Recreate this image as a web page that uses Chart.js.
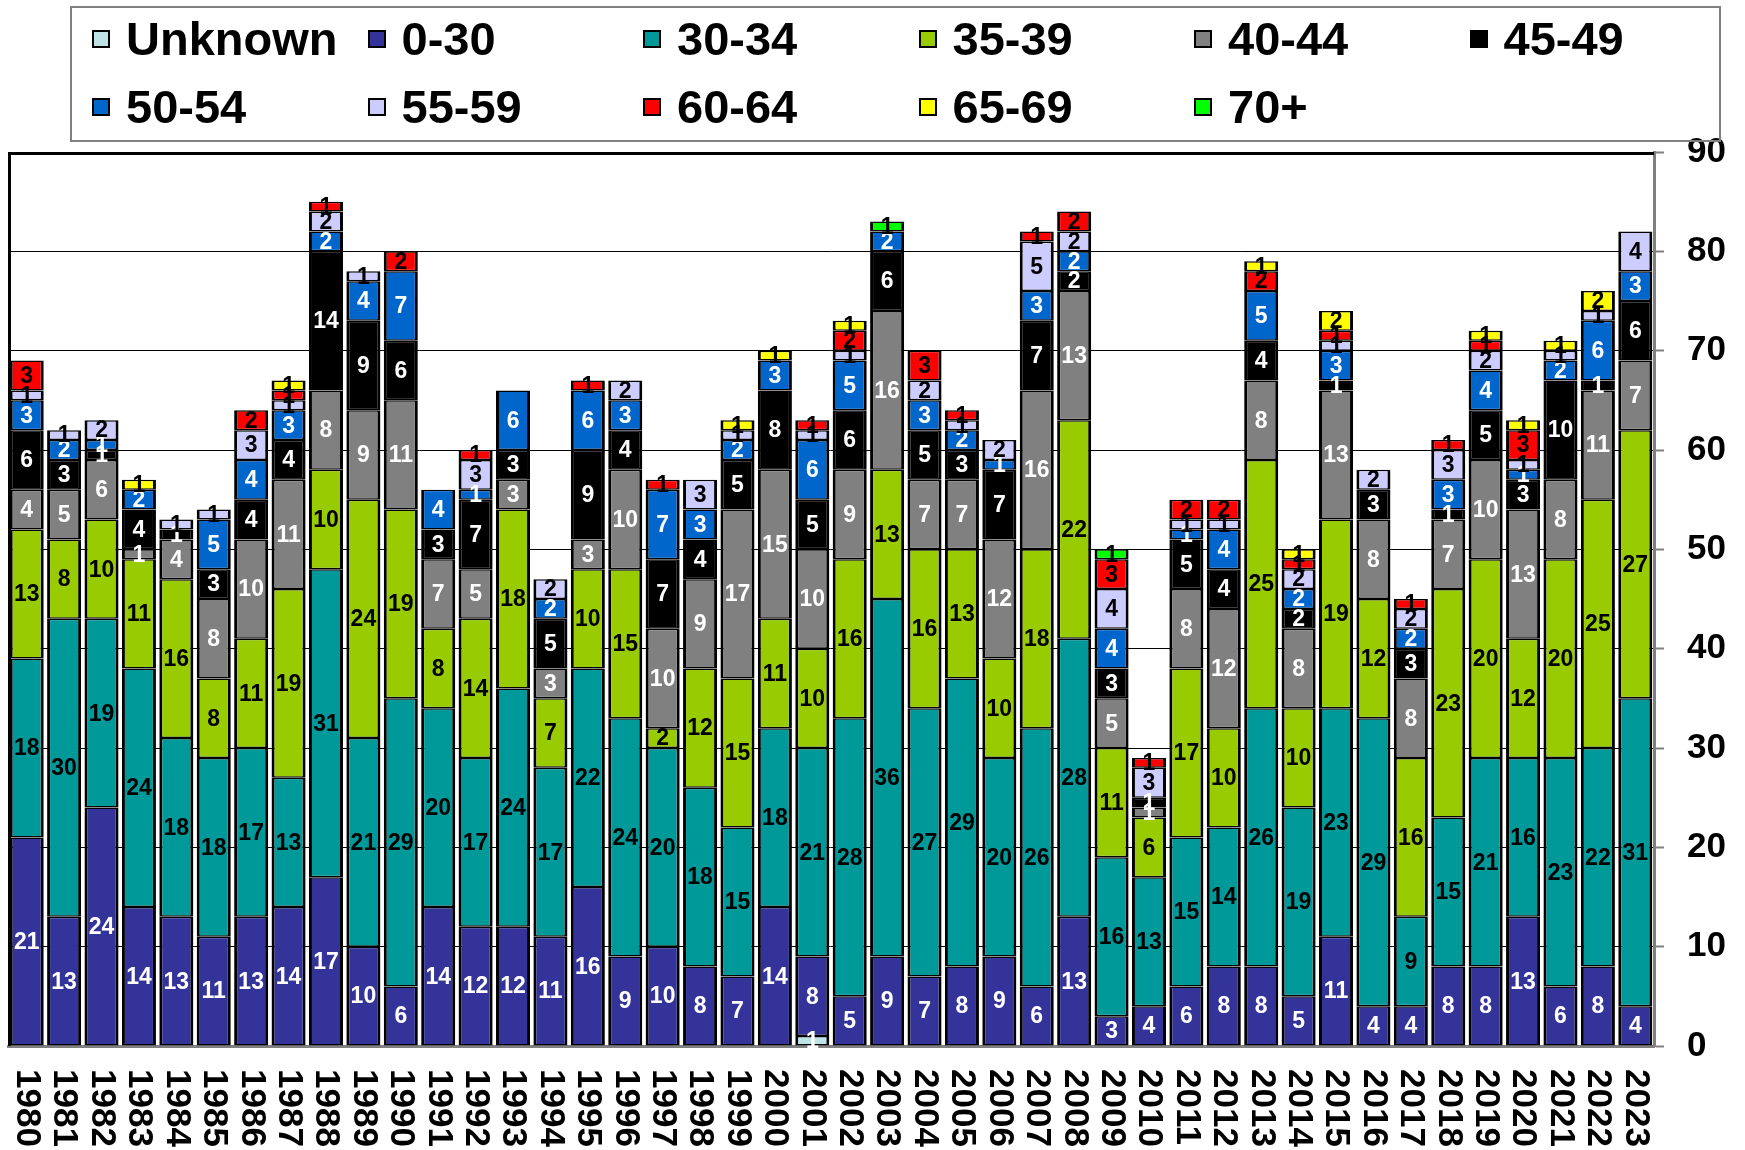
<!DOCTYPE html>
<html>
<head>
<meta charset="utf-8">
<script src="https://cdn.jsdelivr.net/npm/chart.js"></script>
<style>
  html, body { margin: 0; padding: 0; background: #fff; }
  #wrap { position: relative; width: 1745px; height: 1150px; }
  #chart { position: absolute; left: 0; top: 0; }
  #legend { position: absolute; left: 70px; top: 6px; width: 1651px; height: 136px; border: 2px solid #808080; box-sizing: border-box; }
  .lg-item { position: absolute; height: 56px; line-height: 56px; font: bold 47px "Liberation Sans", Arial, sans-serif; color: #000; white-space: nowrap; }
  .lg-box { position: absolute; left: 0; top: 19px; width: 18px; height: 18px; border: 2px solid #000; box-sizing: border-box; }
  .lg-text { position: absolute; left: 34px; top: 0; }
</style>
</head>
<body>
<div id="wrap">
  <canvas id="chart" width="1745" height="1150"></canvas>
  <div id="legend"></div>
</div>
<script>
// years on the x axis
const years = ["1980","1981","1982","1983","1984","1985","1986","1987","1988","1989",
               "1990","1991","1992","1993","1994","1995","1996","1997","1998","1999",
               "2000","2001","2002","2003","2004","2005","2006","2007","2008","2009",
               "2010","2011","2012","2013","2014","2015","2016","2017","2018","2019",
               "2020","2021","2022","2023"];

const seriesNames = ["Unknown","0-30","30-34","35-39","40-44","45-49","50-54","55-59","60-64","65-69","70+"];

const unknown = [0,0,0,0,0,0,0,0,0,0, 0,0,0,0,0,0,0,0,0,0, 0,1,0,0,0,0,0,0,0,0, 0,0,0,0,0,0,0,0,0,0, 0,0,0,0];
const a0_30   = [21,13,24,14,13,11,13,14,17,10, 6,14,12,12,11,16,9,10,8,7, 14,8,5,9,7,8,9,6,13,3, 4,6,8,8,5,11,4,4,8,8, 13,6,8,4];
const a30_34  = [18,30,19,24,18,18,17,13,31,21, 29,20,17,24,17,22,24,20,18,15, 18,21,28,36,27,29,20,26,28,16, 13,15,14,26,19,23,29,9,15,21, 16,23,22,31];
const a35_39  = [13,8,10,11,16,8,11,19,10,24, 19,8,14,18,7,10,15,2,12,15, 11,10,16,13,16,13,10,18,22,11, 6,17,10,25,10,19,12,16,23,20, 12,20,25,27];
const a40_44  = [4,5,6,1,4,8,10,11,8,9, 11,7,5,3,3,3,10,10,9,17, 15,10,9,16,7,7,12,16,13,5, 1,8,12,8,8,13,8,8,7,10, 13,8,11,7];
const a45_49  = [6,3,1,4,1,3,4,4,14,9, 6,3,7,3,5,9,4,7,4,5, 8,5,6,6,5,3,7,7,2,3, 1,5,4,4,2,1,3,3,1,5, 3,10,1,6];
const a50_54  = [3,2,1,2,0,5,4,3,2,4, 7,4,1,6,2,6,3,7,3,2, 3,6,5,2,3,2,1,3,2,4, 0,1,4,5,2,3,0,2,3,4, 1,2,6,3];
const a55_59  = [1,1,2,0,1,1,3,1,2,1, 0,0,3,0,2,0,2,0,3,1, 0,1,1,0,2,1,2,5,2,4, 3,1,1,0,2,1,2,2,3,2, 1,1,1,4];
const a60_64  = [3,0,0,0,0,0,2,1,1,0, 2,0,1,0,0,1,0,1,0,0, 0,1,2,0,3,1,0,1,2,3, 1,2,2,2,1,1,0,1,1,1, 3,0,0,0];
const a65_69  = [0,0,0,1,0,0,0,1,0,0, 0,0,0,0,0,0,0,0,0,1, 1,0,1,0,0,0,0,0,0,0, 0,0,0,1,1,2,0,0,0,1, 1,1,2,0];
const a70p    = [0,0,0,0,0,0,0,0,0,0, 0,0,0,0,0,0,0,0,0,0, 0,0,0,1,0,0,0,0,0,1, 0,0,0,0,0,0,0,0,0,0, 0,0,0,0];

const yTicks = [0,10,20,30,40,50,60,70,80,90];

const FONT = '"Liberation Sans", Arial, sans-serif';
const fills = ["#BDE3E6","#333399","#009999","#99CC00","#808080","#000000","#0066CC","#CCCCFF","#FF0000","#FFFF00","#00FF00"];
const labelInk = ["#fff","#fff","#000","#000","#fff","#fff","#fff","#000","#000","#000","#000"];
const allSeries = [unknown,a0_30,a30_34,a35_39,a40_44,a45_49,a50_54,a55_59,a60_64,a65_69,a70p];

const datasets = allSeries.map((vals, i) => ({
    label: seriesNames[i],
    data: vals.map(v => v === 0 ? null : v),
    backgroundColor: fills[i],
    borderColor: "#000",
    borderWidth: { top: 1.5, bottom: 1.5, left: 3, right: 3 },
    borderSkipped: false,
    categoryPercentage: 1,
    barPercentage: 0.91
}));

// numbers inside the segments
const segLabels = {
    id: "segLabels",
    afterDatasetsDraw(chart) {
        const ctx = chart.ctx;
        ctx.save();
        ctx.font = "bold 23px " + FONT;
        ctx.textAlign = "center";
        ctx.textBaseline = "middle";
        chart.data.datasets.forEach((ds, di) => {
            const meta = chart.getDatasetMeta(di);
            meta.data.forEach((bar, j) => {
                const v = ds.data[j];
                if (!v) return;
                const c = bar.getCenterPoint();
                ctx.fillStyle = labelInk[di];
                ctx.fillText(String(v), c.x, c.y + 1);
            });
        });
        ctx.restore();
    }
};

// frame + rotated year labels
const frameAndYears = {
    id: "frameAndYears",
    afterDraw(chart) {
        const ctx = chart.ctx;
        const a = chart.chartArea;
        const xs = chart.scales.x;
        ctx.save();
        ctx.strokeStyle = "#000";
        ctx.lineWidth = 3;
        ctx.beginPath();
        ctx.moveTo(a.left + 1.5, a.bottom);
        ctx.lineTo(a.left + 1.5, a.top + 1.5);
        ctx.lineTo(a.right, a.top + 1.5);
        ctx.stroke();

        ctx.fillStyle = "#000";
        ctx.font = "bold 35px " + FONT;
        ctx.textAlign = "left";
        ctx.textBaseline = "middle";
        years.forEach((y, i) => {
            const x = xs.getPixelForValue(i);
            ctx.save();
            ctx.translate(x, a.bottom + 23);
            ctx.rotate(Math.PI / 2);
            ctx.fillText(y, 0, 0);
            ctx.restore();
        });
        ctx.restore();
    }
};

new Chart(document.getElementById("chart"), {
    type: "bar",
    data: { labels: years, datasets: datasets },
    options: {
        responsive: false,
        animation: false,
        layout: { padding: { left: 8, top: 152, right: 0, bottom: 0 } },
        plugins: { legend: { display: false }, tooltip: { enabled: false } },
        scales: {
            x: {
                stacked: true,
                grid: { display: false },
                border: { display: true, color: "#808080", width: 3 },
                ticks: { display: false },
                afterFit(scale) { scale.height = 104; }
            },
            y: {
                stacked: true,
                position: "right",
                min: 0,
                max: 90,
                afterBuildTicks(scale) { scale.ticks = yTicks.map(v => ({ value: v })); },
                grid: { color: "#000", lineWidth: 1, tickColor: "#808080", tickWidth: 2, tickLength: 10 },
                border: { display: true, color: "#808080", width: 3 },
                ticks: { color: "#000", padding: 23, font: { family: FONT, size: 35, weight: "bold" } },
                afterFit(scale) { scale.width = 91; }
            }
        }
    },
    plugins: [segLabels, frameAndYears]
});

// legend: 6 fixed columns, 2 rows
const legend = document.getElementById("legend");
seriesNames.forEach((name, i) => {
    const col = i % 6, row = Math.floor(i / 6);
    const item = document.createElement("div");
    item.className = "lg-item";
    item.style.left = (20 + col * 275.5) + "px";
    item.style.top = (3 + row * 68) + "px";
    item.innerHTML = '<span class="lg-box" style="background:' + fills[i] + '"></span><span class="lg-text">' + name + '</span>';
    legend.appendChild(item);
});
</script>
</body>
</html>
